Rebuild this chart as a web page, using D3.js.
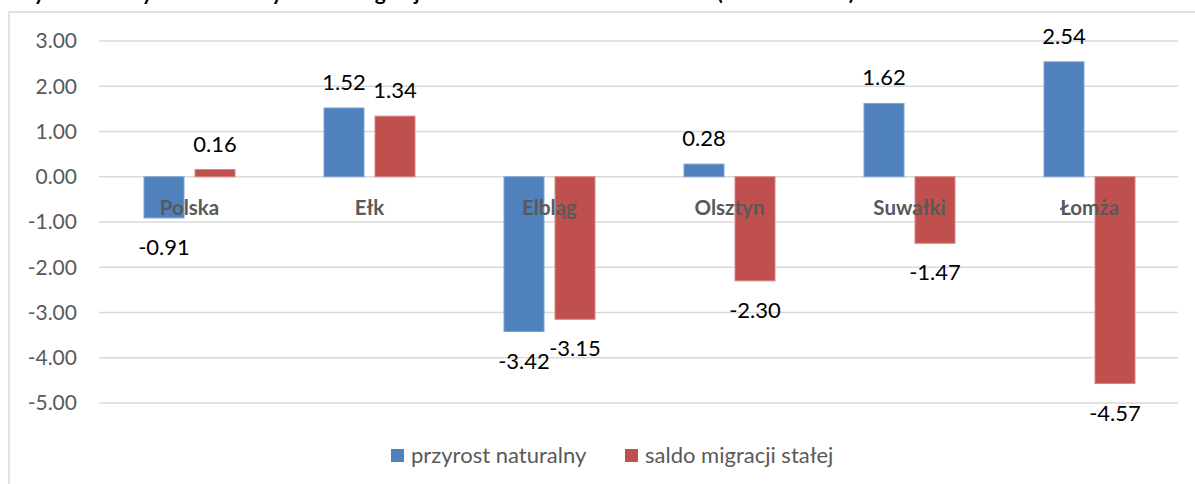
<!DOCTYPE html>
<html>
<head>
<meta charset="utf-8">
<script src="https://cdn.jsdelivr.net/npm/d3@7"></script>
<style>
  html, body { margin: 0; padding: 0; background: #fff; }
  svg { display: block; }
  text { font-family: Lato, "Open Sans", sans-serif; }
</style>
</head>
<body>
<svg id="chart" width="1195" height="484"></svg>
<script>
const title = "Wykres 2. Przyrost naturalny i saldo migracji na 1000 ludności w 2016 roku (na 1000 osób)";
const categories = ["Polska", "Ełk", "Elbląg", "Olsztyn", "Suwałki", "Łomża"];
const seriesNames = ["przyrost naturalny", "saldo migracji stałej"];
const przyrost = [-0.91, 1.52, -3.42, 0.28, 1.62, 2.54];
const saldo = [0.16, 1.34, -3.15, -2.30, -1.47, -4.57];
const yTicks = [3, 2, 1, 0, -1, -2, -3, -4, -5];
const colors = ["#4F81BD", "#C0504D"];
const strokes = ["#7FA3D3", "#D88583"];

const fmt = d3.formatLocale({ decimal: ".", thousands: "", grouping: [3], currency: ["", ""], minus: "-" }).format(".2f");

const svg = d3.select("#chart");

const y = d3.scaleLinear().domain([-5, 3]).range([403, 41]);
const x = d3.scaleBand().domain(categories).range([99.5, 1179.5]);
const x1 = d3.scaleBand().domain(seriesNames).range([-45.5, 45.5]).paddingInner(11 / 51);

// outer border
svg.append("rect")
  .attr("x", 9).attr("y", 12)
  .attr("width", 1300).attr("height", 600)
  .attr("fill", "none").attr("stroke", "#d9d9d9").attr("stroke-width", 1.5);

// title (mostly above the visible area, as in the reference)
svg.append("text")
  .attr("x", 12).attr("y", 0)
  .attr("font-size", 21).attr("font-weight", "bold").attr("fill", "#000")
  .text(title);

// gridlines
svg.append("g").selectAll("line").data(yTicks).join("line")
  .attr("x1", 99).attr("x2", 1178)
  .attr("y1", d => y(d)).attr("y2", d => y(d))
  .attr("stroke", "#d9d9d9").attr("stroke-width", 1.4);

// y tick labels
svg.append("g").selectAll("text").data(yTicks).join("text")
  .attr("x", 77).attr("y", d => y(d)).attr("dy", "0.35em")
  .attr("text-anchor", "end")
  .attr("font-size", 21).attr("fill", "#595959")
  .text(d => fmt(d));

const data = [przyrost, saldo];

// bars
seriesNames.forEach((s, si) => {
  const vals = data[si];
  svg.append("g").selectAll("rect").data(categories).join("rect")
    .attr("x", (c) => x(c) + x.bandwidth() / 2 + x1(s))
    .attr("width", x1.bandwidth())
    .attr("y", (c, i) => Math.min(y(vals[i]), y(0)))
    .attr("height", (c, i) => Math.abs(y(vals[i]) - y(0)))
    .attr("fill", colors[si])
    .attr("stroke", strokes[si]).attr("stroke-width", 1);
});

// category labels (bold, just below the zero line)
svg.append("g").selectAll("text").data(categories).join("text")
  .attr("x", c => x(c) + x.bandwidth() / 2)
  .attr("y", y(0) + 38)
  .attr("text-anchor", "middle")
  .attr("font-size", 20.5).attr("font-weight", "bold").attr("fill", "#595959")
  .text(c => c);

// data labels
seriesNames.forEach((s, si) => {
  const vals = data[si];
  svg.append("g").selectAll("text").data(categories).join("text")
    .attr("x", c => x(c) + x.bandwidth() / 2 + x1(s) + x1.bandwidth() / 2)
    .attr("y", (c, i) => vals[i] >= 0 ? y(vals[i]) - 18 : y(vals[i]) + 37)
    .attr("text-anchor", "middle")
    .attr("font-size", 22).attr("fill", "#000")
    .text((c, i) => fmt(vals[i]));
});

// legend
const legendX = [391, 625];
const lg = svg.append("g").selectAll("g").data(seriesNames).join("g")
  .attr("transform", (d, i) => `translate(${legendX[i]},449)`);
lg.append("rect").attr("width", 13).attr("height", 13).attr("fill", (d, i) => colors[i]);
lg.append("text").attr("x", 20).attr("y", 14)
  .attr("font-size", 22).attr("fill", "#595959")
  .text(d => d);
</script>
</body>
</html>
